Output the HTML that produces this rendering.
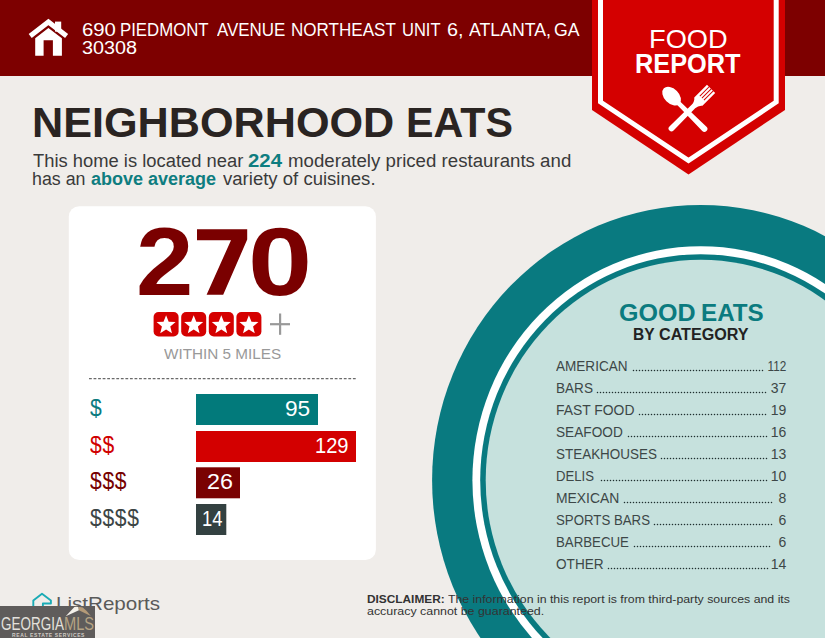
<!DOCTYPE html>
<html><head><meta charset="utf-8">
<style>
*{margin:0;padding:0;box-sizing:border-box}
html,body{width:825px;height:638px;overflow:hidden;background:#f0edea;font-family:"Liberation Sans",sans-serif}
.a{position:absolute;white-space:nowrap;transform-origin:0 0}
#hdr{position:absolute;left:0;top:0;width:825px;height:75.5px;background:#7d0000}
.aw,#t_addr2{color:#fff;font-size:18px;line-height:20px}
.ti{color:#2a2422;font-size:42.7px;font-weight:bold;line-height:50px}
.sub{color:#3a3a3a;font-size:17.6px;line-height:20px}
.tl{color:#0e7d80;font-weight:bold}
.num{color:#7a0000;font-size:96.6px;font-weight:bold;line-height:100px}
#t_within{color:#999;font-size:14.5px;line-height:16px}
.bn{color:#fff;font-size:21.4px;line-height:24px}
.dl{font-size:24.5px;line-height:28px}
.ge{color:#0b7b7f;font-size:24px;font-weight:bold;line-height:28px}
.bc{color:#222;font-size:16px;font-weight:bold;line-height:18px}
.rl,.rn{color:#3d4747;font-size:14px;line-height:18px}
.rn{transform-origin:100% 0}
#t_disc1,#t_disc2,#t_disc3{color:#333;font-size:11.5px;line-height:14px}
#t_lr{color:#5a5a5a;font-size:18.5px;line-height:22px}
</style></head><body>
<div id="hdr"></div>
<svg class="a" style="left:0;top:0" width="825" height="638" viewBox="0 0 825 638">
  <rect x="55" y="21.6" width="6.2" height="10" fill="#fff"/>
  <polyline points="30.2,35.9 48.4,22 66.6,35.9" fill="none" stroke="#fff" stroke-width="5" stroke-miterlimit="10"/>
  <path d="M35.2 38.2 L48.4 28.1 L61.9 38.2 L61.9 55.7 L52.9 55.7 L52.9 40.2 L43.6 40.2 L43.6 55.7 L35.2 55.7 Z" fill="#fff"/>
  <ellipse cx="700.7" cy="480.3" rx="268.6" ry="275.4" fill="#097a80"/>
  <ellipse cx="700.7" cy="480.3" rx="228.3" ry="234.1" fill="#fff"/>
  <ellipse cx="700.7" cy="480.3" rx="220.5" ry="226.1" fill="#097a80"/>
  <ellipse cx="700.7" cy="480.3" rx="215" ry="220.5" fill="#c6e1dd"/>
  <path d="M592 0 L785 0 L785 110 L688.5 174.5 L592 110 Z" fill="#d40000"/>
  <path d="M600.5 0 L600.5 102 L688.5 160.5 L776.2 102 L776.2 0" fill="none" stroke="#fff" stroke-width="5"/>
  <g fill="#fff">
    <g transform="translate(687.75,112.25) rotate(45)">
      <ellipse cx="-22.8" cy="0" rx="11" ry="7.4"/>
      <path d="M-14 -2.3 Q-4 -2.3 23.5 -3 A3 3 0 0 1 23.5 3 Q-4 2.3 -14 2.3 Z"/>
    </g>
    <g transform="translate(687.75,112.25) rotate(-45)">
      <path d="M-23 -2.9 L8 -2.5 Q12.5 -2.5 15 -5.8 L33 -5.8 L33 5.8 L15 5.8 Q12.5 2.5 8 2.5 L-23 2.9 A2.9 2.9 0 0 1 -23 -2.9 Z"/>
    </g>
  </g>
  <g stroke="#d40000" stroke-width="1">
    <g transform="translate(687.75,112.25) rotate(-45)">
      <line x1="20" y1="-2.9" x2="33.5" y2="-2.9"/><line x1="20" y1="0" x2="33.5" y2="0"/><line x1="20" y1="2.9" x2="33.5" y2="2.9"/>
    </g>
  </g>
  <rect x="68.8" y="206.2" width="307.1" height="353.8" rx="10.5" fill="#fff"/>
  <rect x="153.60" y="312" width="25" height="24.5" rx="5" fill="#d50000"/>
<polygon points="166.10,315.20 168.69,321.64 175.61,322.11 170.28,326.56 171.98,333.29 166.10,329.60 160.22,333.29 161.92,326.56 156.59,322.11 163.51,321.64" fill="#fff"/>
<rect x="181.20" y="312" width="25" height="24.5" rx="5" fill="#d50000"/>
<polygon points="193.70,315.20 196.29,321.64 203.21,322.11 197.88,326.56 199.58,333.29 193.70,329.60 187.82,333.29 189.52,326.56 184.19,322.11 191.11,321.64" fill="#fff"/>
<rect x="208.80" y="312" width="25" height="24.5" rx="5" fill="#d50000"/>
<polygon points="221.30,315.20 223.89,321.64 230.81,322.11 225.48,326.56 227.18,333.29 221.30,329.60 215.42,333.29 217.12,326.56 211.79,322.11 218.71,321.64" fill="#fff"/>
<rect x="236.40" y="312" width="25" height="24.5" rx="5" fill="#d50000"/>
<polygon points="248.90,315.20 251.49,321.64 258.41,322.11 253.08,326.56 254.78,333.29 248.90,329.60 243.02,333.29 244.72,326.56 239.39,322.11 246.31,321.64" fill="#fff"/>

  <line x1="89" y1="378.6" x2="356.5" y2="378.6" stroke="#6a6a6a" stroke-width="1.3" stroke-dasharray="2.8 1.75"/>
  <polygon points="197,229.3 247.2,229.3 247.2,239.5 223.2,294.8 206.6,294.8 231,240.2 197,240.2" fill="#7a0000"/>
  <rect x="270" y="323.1" width="20" height="2.2" fill="#999"/>
  <rect x="279" y="313.5" width="2.2" height="21.3" fill="#999"/>
  <g fill="#203030"><circle cx="633.50" cy="370.50" r="0.78"/><circle cx="636.50" cy="370.50" r="0.78"/><circle cx="639.50" cy="370.50" r="0.78"/><circle cx="642.50" cy="370.50" r="0.78"/><circle cx="645.50" cy="370.50" r="0.78"/><circle cx="648.50" cy="370.50" r="0.78"/><circle cx="651.50" cy="370.50" r="0.78"/><circle cx="654.50" cy="370.50" r="0.78"/><circle cx="657.50" cy="370.50" r="0.78"/><circle cx="660.50" cy="370.50" r="0.78"/><circle cx="663.50" cy="370.50" r="0.78"/><circle cx="666.50" cy="370.50" r="0.78"/><circle cx="669.50" cy="370.50" r="0.78"/><circle cx="672.50" cy="370.50" r="0.78"/><circle cx="675.50" cy="370.50" r="0.78"/><circle cx="678.50" cy="370.50" r="0.78"/><circle cx="681.50" cy="370.50" r="0.78"/><circle cx="684.50" cy="370.50" r="0.78"/><circle cx="687.50" cy="370.50" r="0.78"/><circle cx="690.50" cy="370.50" r="0.78"/><circle cx="693.50" cy="370.50" r="0.78"/><circle cx="696.50" cy="370.50" r="0.78"/><circle cx="699.50" cy="370.50" r="0.78"/><circle cx="702.50" cy="370.50" r="0.78"/><circle cx="705.50" cy="370.50" r="0.78"/><circle cx="708.50" cy="370.50" r="0.78"/><circle cx="711.50" cy="370.50" r="0.78"/><circle cx="714.50" cy="370.50" r="0.78"/><circle cx="717.50" cy="370.50" r="0.78"/><circle cx="720.50" cy="370.50" r="0.78"/><circle cx="723.50" cy="370.50" r="0.78"/><circle cx="726.50" cy="370.50" r="0.78"/><circle cx="729.50" cy="370.50" r="0.78"/><circle cx="732.50" cy="370.50" r="0.78"/><circle cx="735.50" cy="370.50" r="0.78"/><circle cx="738.50" cy="370.50" r="0.78"/><circle cx="741.50" cy="370.50" r="0.78"/><circle cx="744.50" cy="370.50" r="0.78"/><circle cx="747.50" cy="370.50" r="0.78"/><circle cx="750.50" cy="370.50" r="0.78"/><circle cx="753.50" cy="370.50" r="0.78"/><circle cx="756.50" cy="370.50" r="0.78"/><circle cx="759.50" cy="370.50" r="0.78"/><circle cx="762.50" cy="370.50" r="0.78"/><circle cx="597.50" cy="392.50" r="0.78"/><circle cx="600.50" cy="392.50" r="0.78"/><circle cx="603.50" cy="392.50" r="0.78"/><circle cx="606.50" cy="392.50" r="0.78"/><circle cx="609.50" cy="392.50" r="0.78"/><circle cx="612.50" cy="392.50" r="0.78"/><circle cx="615.50" cy="392.50" r="0.78"/><circle cx="618.50" cy="392.50" r="0.78"/><circle cx="621.50" cy="392.50" r="0.78"/><circle cx="624.50" cy="392.50" r="0.78"/><circle cx="627.50" cy="392.50" r="0.78"/><circle cx="630.50" cy="392.50" r="0.78"/><circle cx="633.50" cy="392.50" r="0.78"/><circle cx="636.50" cy="392.50" r="0.78"/><circle cx="639.50" cy="392.50" r="0.78"/><circle cx="642.50" cy="392.50" r="0.78"/><circle cx="645.50" cy="392.50" r="0.78"/><circle cx="648.50" cy="392.50" r="0.78"/><circle cx="651.50" cy="392.50" r="0.78"/><circle cx="654.50" cy="392.50" r="0.78"/><circle cx="657.50" cy="392.50" r="0.78"/><circle cx="660.50" cy="392.50" r="0.78"/><circle cx="663.50" cy="392.50" r="0.78"/><circle cx="666.50" cy="392.50" r="0.78"/><circle cx="669.50" cy="392.50" r="0.78"/><circle cx="672.50" cy="392.50" r="0.78"/><circle cx="675.50" cy="392.50" r="0.78"/><circle cx="678.50" cy="392.50" r="0.78"/><circle cx="681.50" cy="392.50" r="0.78"/><circle cx="684.50" cy="392.50" r="0.78"/><circle cx="687.50" cy="392.50" r="0.78"/><circle cx="690.50" cy="392.50" r="0.78"/><circle cx="693.50" cy="392.50" r="0.78"/><circle cx="696.50" cy="392.50" r="0.78"/><circle cx="699.50" cy="392.50" r="0.78"/><circle cx="702.50" cy="392.50" r="0.78"/><circle cx="705.50" cy="392.50" r="0.78"/><circle cx="708.50" cy="392.50" r="0.78"/><circle cx="711.50" cy="392.50" r="0.78"/><circle cx="714.50" cy="392.50" r="0.78"/><circle cx="717.50" cy="392.50" r="0.78"/><circle cx="720.50" cy="392.50" r="0.78"/><circle cx="723.50" cy="392.50" r="0.78"/><circle cx="726.50" cy="392.50" r="0.78"/><circle cx="729.50" cy="392.50" r="0.78"/><circle cx="732.50" cy="392.50" r="0.78"/><circle cx="735.50" cy="392.50" r="0.78"/><circle cx="738.50" cy="392.50" r="0.78"/><circle cx="741.50" cy="392.50" r="0.78"/><circle cx="744.50" cy="392.50" r="0.78"/><circle cx="747.50" cy="392.50" r="0.78"/><circle cx="750.50" cy="392.50" r="0.78"/><circle cx="753.50" cy="392.50" r="0.78"/><circle cx="756.50" cy="392.50" r="0.78"/><circle cx="759.50" cy="392.50" r="0.78"/><circle cx="762.50" cy="392.50" r="0.78"/><circle cx="765.50" cy="392.50" r="0.78"/><circle cx="639.50" cy="414.50" r="0.78"/><circle cx="642.50" cy="414.50" r="0.78"/><circle cx="645.50" cy="414.50" r="0.78"/><circle cx="648.50" cy="414.50" r="0.78"/><circle cx="651.50" cy="414.50" r="0.78"/><circle cx="654.50" cy="414.50" r="0.78"/><circle cx="657.50" cy="414.50" r="0.78"/><circle cx="660.50" cy="414.50" r="0.78"/><circle cx="663.50" cy="414.50" r="0.78"/><circle cx="666.50" cy="414.50" r="0.78"/><circle cx="669.50" cy="414.50" r="0.78"/><circle cx="672.50" cy="414.50" r="0.78"/><circle cx="675.50" cy="414.50" r="0.78"/><circle cx="678.50" cy="414.50" r="0.78"/><circle cx="681.50" cy="414.50" r="0.78"/><circle cx="684.50" cy="414.50" r="0.78"/><circle cx="687.50" cy="414.50" r="0.78"/><circle cx="690.50" cy="414.50" r="0.78"/><circle cx="693.50" cy="414.50" r="0.78"/><circle cx="696.50" cy="414.50" r="0.78"/><circle cx="699.50" cy="414.50" r="0.78"/><circle cx="702.50" cy="414.50" r="0.78"/><circle cx="705.50" cy="414.50" r="0.78"/><circle cx="708.50" cy="414.50" r="0.78"/><circle cx="711.50" cy="414.50" r="0.78"/><circle cx="714.50" cy="414.50" r="0.78"/><circle cx="717.50" cy="414.50" r="0.78"/><circle cx="720.50" cy="414.50" r="0.78"/><circle cx="723.50" cy="414.50" r="0.78"/><circle cx="726.50" cy="414.50" r="0.78"/><circle cx="729.50" cy="414.50" r="0.78"/><circle cx="732.50" cy="414.50" r="0.78"/><circle cx="735.50" cy="414.50" r="0.78"/><circle cx="738.50" cy="414.50" r="0.78"/><circle cx="741.50" cy="414.50" r="0.78"/><circle cx="744.50" cy="414.50" r="0.78"/><circle cx="747.50" cy="414.50" r="0.78"/><circle cx="750.50" cy="414.50" r="0.78"/><circle cx="753.50" cy="414.50" r="0.78"/><circle cx="756.50" cy="414.50" r="0.78"/><circle cx="759.50" cy="414.50" r="0.78"/><circle cx="762.50" cy="414.50" r="0.78"/><circle cx="765.50" cy="414.50" r="0.78"/><circle cx="628.50" cy="436.50" r="0.78"/><circle cx="631.50" cy="436.50" r="0.78"/><circle cx="634.50" cy="436.50" r="0.78"/><circle cx="637.50" cy="436.50" r="0.78"/><circle cx="640.50" cy="436.50" r="0.78"/><circle cx="643.50" cy="436.50" r="0.78"/><circle cx="646.50" cy="436.50" r="0.78"/><circle cx="649.50" cy="436.50" r="0.78"/><circle cx="652.50" cy="436.50" r="0.78"/><circle cx="655.50" cy="436.50" r="0.78"/><circle cx="658.50" cy="436.50" r="0.78"/><circle cx="661.50" cy="436.50" r="0.78"/><circle cx="664.50" cy="436.50" r="0.78"/><circle cx="667.50" cy="436.50" r="0.78"/><circle cx="670.50" cy="436.50" r="0.78"/><circle cx="673.50" cy="436.50" r="0.78"/><circle cx="676.50" cy="436.50" r="0.78"/><circle cx="679.50" cy="436.50" r="0.78"/><circle cx="682.50" cy="436.50" r="0.78"/><circle cx="685.50" cy="436.50" r="0.78"/><circle cx="688.50" cy="436.50" r="0.78"/><circle cx="691.50" cy="436.50" r="0.78"/><circle cx="694.50" cy="436.50" r="0.78"/><circle cx="697.50" cy="436.50" r="0.78"/><circle cx="700.50" cy="436.50" r="0.78"/><circle cx="703.50" cy="436.50" r="0.78"/><circle cx="706.50" cy="436.50" r="0.78"/><circle cx="709.50" cy="436.50" r="0.78"/><circle cx="712.50" cy="436.50" r="0.78"/><circle cx="715.50" cy="436.50" r="0.78"/><circle cx="718.50" cy="436.50" r="0.78"/><circle cx="721.50" cy="436.50" r="0.78"/><circle cx="724.50" cy="436.50" r="0.78"/><circle cx="727.50" cy="436.50" r="0.78"/><circle cx="730.50" cy="436.50" r="0.78"/><circle cx="733.50" cy="436.50" r="0.78"/><circle cx="736.50" cy="436.50" r="0.78"/><circle cx="739.50" cy="436.50" r="0.78"/><circle cx="742.50" cy="436.50" r="0.78"/><circle cx="745.50" cy="436.50" r="0.78"/><circle cx="748.50" cy="436.50" r="0.78"/><circle cx="751.50" cy="436.50" r="0.78"/><circle cx="754.50" cy="436.50" r="0.78"/><circle cx="757.50" cy="436.50" r="0.78"/><circle cx="760.50" cy="436.50" r="0.78"/><circle cx="763.50" cy="436.50" r="0.78"/><circle cx="766.50" cy="436.50" r="0.78"/><circle cx="661.50" cy="458.50" r="0.78"/><circle cx="664.50" cy="458.50" r="0.78"/><circle cx="667.50" cy="458.50" r="0.78"/><circle cx="670.50" cy="458.50" r="0.78"/><circle cx="673.50" cy="458.50" r="0.78"/><circle cx="676.50" cy="458.50" r="0.78"/><circle cx="679.50" cy="458.50" r="0.78"/><circle cx="682.50" cy="458.50" r="0.78"/><circle cx="685.50" cy="458.50" r="0.78"/><circle cx="688.50" cy="458.50" r="0.78"/><circle cx="691.50" cy="458.50" r="0.78"/><circle cx="694.50" cy="458.50" r="0.78"/><circle cx="697.50" cy="458.50" r="0.78"/><circle cx="700.50" cy="458.50" r="0.78"/><circle cx="703.50" cy="458.50" r="0.78"/><circle cx="706.50" cy="458.50" r="0.78"/><circle cx="709.50" cy="458.50" r="0.78"/><circle cx="712.50" cy="458.50" r="0.78"/><circle cx="715.50" cy="458.50" r="0.78"/><circle cx="718.50" cy="458.50" r="0.78"/><circle cx="721.50" cy="458.50" r="0.78"/><circle cx="724.50" cy="458.50" r="0.78"/><circle cx="727.50" cy="458.50" r="0.78"/><circle cx="730.50" cy="458.50" r="0.78"/><circle cx="733.50" cy="458.50" r="0.78"/><circle cx="736.50" cy="458.50" r="0.78"/><circle cx="739.50" cy="458.50" r="0.78"/><circle cx="742.50" cy="458.50" r="0.78"/><circle cx="745.50" cy="458.50" r="0.78"/><circle cx="748.50" cy="458.50" r="0.78"/><circle cx="751.50" cy="458.50" r="0.78"/><circle cx="754.50" cy="458.50" r="0.78"/><circle cx="757.50" cy="458.50" r="0.78"/><circle cx="760.50" cy="458.50" r="0.78"/><circle cx="763.50" cy="458.50" r="0.78"/><circle cx="766.50" cy="458.50" r="0.78"/><circle cx="601.50" cy="480.50" r="0.78"/><circle cx="604.50" cy="480.50" r="0.78"/><circle cx="607.50" cy="480.50" r="0.78"/><circle cx="610.50" cy="480.50" r="0.78"/><circle cx="613.50" cy="480.50" r="0.78"/><circle cx="616.50" cy="480.50" r="0.78"/><circle cx="619.50" cy="480.50" r="0.78"/><circle cx="622.50" cy="480.50" r="0.78"/><circle cx="625.50" cy="480.50" r="0.78"/><circle cx="628.50" cy="480.50" r="0.78"/><circle cx="631.50" cy="480.50" r="0.78"/><circle cx="634.50" cy="480.50" r="0.78"/><circle cx="637.50" cy="480.50" r="0.78"/><circle cx="640.50" cy="480.50" r="0.78"/><circle cx="643.50" cy="480.50" r="0.78"/><circle cx="646.50" cy="480.50" r="0.78"/><circle cx="649.50" cy="480.50" r="0.78"/><circle cx="652.50" cy="480.50" r="0.78"/><circle cx="655.50" cy="480.50" r="0.78"/><circle cx="658.50" cy="480.50" r="0.78"/><circle cx="661.50" cy="480.50" r="0.78"/><circle cx="664.50" cy="480.50" r="0.78"/><circle cx="667.50" cy="480.50" r="0.78"/><circle cx="670.50" cy="480.50" r="0.78"/><circle cx="673.50" cy="480.50" r="0.78"/><circle cx="676.50" cy="480.50" r="0.78"/><circle cx="679.50" cy="480.50" r="0.78"/><circle cx="682.50" cy="480.50" r="0.78"/><circle cx="685.50" cy="480.50" r="0.78"/><circle cx="688.50" cy="480.50" r="0.78"/><circle cx="691.50" cy="480.50" r="0.78"/><circle cx="694.50" cy="480.50" r="0.78"/><circle cx="697.50" cy="480.50" r="0.78"/><circle cx="700.50" cy="480.50" r="0.78"/><circle cx="703.50" cy="480.50" r="0.78"/><circle cx="706.50" cy="480.50" r="0.78"/><circle cx="709.50" cy="480.50" r="0.78"/><circle cx="712.50" cy="480.50" r="0.78"/><circle cx="715.50" cy="480.50" r="0.78"/><circle cx="718.50" cy="480.50" r="0.78"/><circle cx="721.50" cy="480.50" r="0.78"/><circle cx="724.50" cy="480.50" r="0.78"/><circle cx="727.50" cy="480.50" r="0.78"/><circle cx="730.50" cy="480.50" r="0.78"/><circle cx="733.50" cy="480.50" r="0.78"/><circle cx="736.50" cy="480.50" r="0.78"/><circle cx="739.50" cy="480.50" r="0.78"/><circle cx="742.50" cy="480.50" r="0.78"/><circle cx="745.50" cy="480.50" r="0.78"/><circle cx="748.50" cy="480.50" r="0.78"/><circle cx="751.50" cy="480.50" r="0.78"/><circle cx="754.50" cy="480.50" r="0.78"/><circle cx="757.50" cy="480.50" r="0.78"/><circle cx="760.50" cy="480.50" r="0.78"/><circle cx="763.50" cy="480.50" r="0.78"/><circle cx="766.50" cy="480.50" r="0.78"/><circle cx="624.50" cy="502.50" r="0.78"/><circle cx="627.50" cy="502.50" r="0.78"/><circle cx="630.50" cy="502.50" r="0.78"/><circle cx="633.50" cy="502.50" r="0.78"/><circle cx="636.50" cy="502.50" r="0.78"/><circle cx="639.50" cy="502.50" r="0.78"/><circle cx="642.50" cy="502.50" r="0.78"/><circle cx="645.50" cy="502.50" r="0.78"/><circle cx="648.50" cy="502.50" r="0.78"/><circle cx="651.50" cy="502.50" r="0.78"/><circle cx="654.50" cy="502.50" r="0.78"/><circle cx="657.50" cy="502.50" r="0.78"/><circle cx="660.50" cy="502.50" r="0.78"/><circle cx="663.50" cy="502.50" r="0.78"/><circle cx="666.50" cy="502.50" r="0.78"/><circle cx="669.50" cy="502.50" r="0.78"/><circle cx="672.50" cy="502.50" r="0.78"/><circle cx="675.50" cy="502.50" r="0.78"/><circle cx="678.50" cy="502.50" r="0.78"/><circle cx="681.50" cy="502.50" r="0.78"/><circle cx="684.50" cy="502.50" r="0.78"/><circle cx="687.50" cy="502.50" r="0.78"/><circle cx="690.50" cy="502.50" r="0.78"/><circle cx="693.50" cy="502.50" r="0.78"/><circle cx="696.50" cy="502.50" r="0.78"/><circle cx="699.50" cy="502.50" r="0.78"/><circle cx="702.50" cy="502.50" r="0.78"/><circle cx="705.50" cy="502.50" r="0.78"/><circle cx="708.50" cy="502.50" r="0.78"/><circle cx="711.50" cy="502.50" r="0.78"/><circle cx="714.50" cy="502.50" r="0.78"/><circle cx="717.50" cy="502.50" r="0.78"/><circle cx="720.50" cy="502.50" r="0.78"/><circle cx="723.50" cy="502.50" r="0.78"/><circle cx="726.50" cy="502.50" r="0.78"/><circle cx="729.50" cy="502.50" r="0.78"/><circle cx="732.50" cy="502.50" r="0.78"/><circle cx="735.50" cy="502.50" r="0.78"/><circle cx="738.50" cy="502.50" r="0.78"/><circle cx="741.50" cy="502.50" r="0.78"/><circle cx="744.50" cy="502.50" r="0.78"/><circle cx="747.50" cy="502.50" r="0.78"/><circle cx="750.50" cy="502.50" r="0.78"/><circle cx="753.50" cy="502.50" r="0.78"/><circle cx="756.50" cy="502.50" r="0.78"/><circle cx="759.50" cy="502.50" r="0.78"/><circle cx="762.50" cy="502.50" r="0.78"/><circle cx="765.50" cy="502.50" r="0.78"/><circle cx="768.50" cy="502.50" r="0.78"/><circle cx="771.50" cy="502.50" r="0.78"/><circle cx="654.50" cy="524.50" r="0.78"/><circle cx="657.50" cy="524.50" r="0.78"/><circle cx="660.50" cy="524.50" r="0.78"/><circle cx="663.50" cy="524.50" r="0.78"/><circle cx="666.50" cy="524.50" r="0.78"/><circle cx="669.50" cy="524.50" r="0.78"/><circle cx="672.50" cy="524.50" r="0.78"/><circle cx="675.50" cy="524.50" r="0.78"/><circle cx="678.50" cy="524.50" r="0.78"/><circle cx="681.50" cy="524.50" r="0.78"/><circle cx="684.50" cy="524.50" r="0.78"/><circle cx="687.50" cy="524.50" r="0.78"/><circle cx="690.50" cy="524.50" r="0.78"/><circle cx="693.50" cy="524.50" r="0.78"/><circle cx="696.50" cy="524.50" r="0.78"/><circle cx="699.50" cy="524.50" r="0.78"/><circle cx="702.50" cy="524.50" r="0.78"/><circle cx="705.50" cy="524.50" r="0.78"/><circle cx="708.50" cy="524.50" r="0.78"/><circle cx="711.50" cy="524.50" r="0.78"/><circle cx="714.50" cy="524.50" r="0.78"/><circle cx="717.50" cy="524.50" r="0.78"/><circle cx="720.50" cy="524.50" r="0.78"/><circle cx="723.50" cy="524.50" r="0.78"/><circle cx="726.50" cy="524.50" r="0.78"/><circle cx="729.50" cy="524.50" r="0.78"/><circle cx="732.50" cy="524.50" r="0.78"/><circle cx="735.50" cy="524.50" r="0.78"/><circle cx="738.50" cy="524.50" r="0.78"/><circle cx="741.50" cy="524.50" r="0.78"/><circle cx="744.50" cy="524.50" r="0.78"/><circle cx="747.50" cy="524.50" r="0.78"/><circle cx="750.50" cy="524.50" r="0.78"/><circle cx="753.50" cy="524.50" r="0.78"/><circle cx="756.50" cy="524.50" r="0.78"/><circle cx="759.50" cy="524.50" r="0.78"/><circle cx="762.50" cy="524.50" r="0.78"/><circle cx="765.50" cy="524.50" r="0.78"/><circle cx="768.50" cy="524.50" r="0.78"/><circle cx="771.50" cy="524.50" r="0.78"/><circle cx="634.50" cy="546.50" r="0.78"/><circle cx="637.50" cy="546.50" r="0.78"/><circle cx="640.50" cy="546.50" r="0.78"/><circle cx="643.50" cy="546.50" r="0.78"/><circle cx="646.50" cy="546.50" r="0.78"/><circle cx="649.50" cy="546.50" r="0.78"/><circle cx="652.50" cy="546.50" r="0.78"/><circle cx="655.50" cy="546.50" r="0.78"/><circle cx="658.50" cy="546.50" r="0.78"/><circle cx="661.50" cy="546.50" r="0.78"/><circle cx="664.50" cy="546.50" r="0.78"/><circle cx="667.50" cy="546.50" r="0.78"/><circle cx="670.50" cy="546.50" r="0.78"/><circle cx="673.50" cy="546.50" r="0.78"/><circle cx="676.50" cy="546.50" r="0.78"/><circle cx="679.50" cy="546.50" r="0.78"/><circle cx="682.50" cy="546.50" r="0.78"/><circle cx="685.50" cy="546.50" r="0.78"/><circle cx="688.50" cy="546.50" r="0.78"/><circle cx="691.50" cy="546.50" r="0.78"/><circle cx="694.50" cy="546.50" r="0.78"/><circle cx="697.50" cy="546.50" r="0.78"/><circle cx="700.50" cy="546.50" r="0.78"/><circle cx="703.50" cy="546.50" r="0.78"/><circle cx="706.50" cy="546.50" r="0.78"/><circle cx="709.50" cy="546.50" r="0.78"/><circle cx="712.50" cy="546.50" r="0.78"/><circle cx="715.50" cy="546.50" r="0.78"/><circle cx="718.50" cy="546.50" r="0.78"/><circle cx="721.50" cy="546.50" r="0.78"/><circle cx="724.50" cy="546.50" r="0.78"/><circle cx="727.50" cy="546.50" r="0.78"/><circle cx="730.50" cy="546.50" r="0.78"/><circle cx="733.50" cy="546.50" r="0.78"/><circle cx="736.50" cy="546.50" r="0.78"/><circle cx="739.50" cy="546.50" r="0.78"/><circle cx="742.50" cy="546.50" r="0.78"/><circle cx="745.50" cy="546.50" r="0.78"/><circle cx="748.50" cy="546.50" r="0.78"/><circle cx="751.50" cy="546.50" r="0.78"/><circle cx="754.50" cy="546.50" r="0.78"/><circle cx="757.50" cy="546.50" r="0.78"/><circle cx="760.50" cy="546.50" r="0.78"/><circle cx="763.50" cy="546.50" r="0.78"/><circle cx="766.50" cy="546.50" r="0.78"/><circle cx="769.50" cy="546.50" r="0.78"/><circle cx="608.50" cy="568.50" r="0.78"/><circle cx="611.50" cy="568.50" r="0.78"/><circle cx="614.50" cy="568.50" r="0.78"/><circle cx="617.50" cy="568.50" r="0.78"/><circle cx="620.50" cy="568.50" r="0.78"/><circle cx="623.50" cy="568.50" r="0.78"/><circle cx="626.50" cy="568.50" r="0.78"/><circle cx="629.50" cy="568.50" r="0.78"/><circle cx="632.50" cy="568.50" r="0.78"/><circle cx="635.50" cy="568.50" r="0.78"/><circle cx="638.50" cy="568.50" r="0.78"/><circle cx="641.50" cy="568.50" r="0.78"/><circle cx="644.50" cy="568.50" r="0.78"/><circle cx="647.50" cy="568.50" r="0.78"/><circle cx="650.50" cy="568.50" r="0.78"/><circle cx="653.50" cy="568.50" r="0.78"/><circle cx="656.50" cy="568.50" r="0.78"/><circle cx="659.50" cy="568.50" r="0.78"/><circle cx="662.50" cy="568.50" r="0.78"/><circle cx="665.50" cy="568.50" r="0.78"/><circle cx="668.50" cy="568.50" r="0.78"/><circle cx="671.50" cy="568.50" r="0.78"/><circle cx="674.50" cy="568.50" r="0.78"/><circle cx="677.50" cy="568.50" r="0.78"/><circle cx="680.50" cy="568.50" r="0.78"/><circle cx="683.50" cy="568.50" r="0.78"/><circle cx="686.50" cy="568.50" r="0.78"/><circle cx="689.50" cy="568.50" r="0.78"/><circle cx="692.50" cy="568.50" r="0.78"/><circle cx="695.50" cy="568.50" r="0.78"/><circle cx="698.50" cy="568.50" r="0.78"/><circle cx="701.50" cy="568.50" r="0.78"/><circle cx="704.50" cy="568.50" r="0.78"/><circle cx="707.50" cy="568.50" r="0.78"/><circle cx="710.50" cy="568.50" r="0.78"/><circle cx="713.50" cy="568.50" r="0.78"/><circle cx="716.50" cy="568.50" r="0.78"/><circle cx="719.50" cy="568.50" r="0.78"/><circle cx="722.50" cy="568.50" r="0.78"/><circle cx="725.50" cy="568.50" r="0.78"/><circle cx="728.50" cy="568.50" r="0.78"/><circle cx="731.50" cy="568.50" r="0.78"/><circle cx="734.50" cy="568.50" r="0.78"/><circle cx="737.50" cy="568.50" r="0.78"/><circle cx="740.50" cy="568.50" r="0.78"/><circle cx="743.50" cy="568.50" r="0.78"/><circle cx="746.50" cy="568.50" r="0.78"/><circle cx="749.50" cy="568.50" r="0.78"/><circle cx="752.50" cy="568.50" r="0.78"/><circle cx="755.50" cy="568.50" r="0.78"/><circle cx="758.50" cy="568.50" r="0.78"/><circle cx="761.50" cy="568.50" r="0.78"/><circle cx="764.50" cy="568.50" r="0.78"/><circle cx="767.50" cy="568.50" r="0.78"/></g>
  <rect x="196" y="394" width="122" height="31" fill="#027a7b"/>
  <rect x="196" y="431" width="160" height="31" fill="#d30000"/>
  <rect x="196" y="467.3" width="44" height="31" fill="#7a0202"/>
  <rect x="196" y="504" width="30.3" height="31" fill="#334141"/>
</svg>
<div id="t_aw0" class="a aw" style="left:81.67px;top:20px;transform:scaleX(1.13)">690</div>
<div id="t_aw1" class="a aw" style="left:119.64px;top:20px;transform:scaleX(0.932)">PIEDMONT</div>
<div id="t_aw2" class="a aw" style="left:217.00px;top:20px;transform:scaleX(0.94)">AVENUE</div>
<div id="t_aw3" class="a aw" style="left:291.00px;top:20px;transform:scaleX(0.948)">NORTHEAST</div>
<div id="t_aw4" class="a aw" style="left:402.38px;top:20px;transform:scaleX(0.917)">UNIT</div>
<div id="t_aw5" class="a aw" style="left:447.10px;top:20px;transform:scaleX(1.1)">6,</div>
<div id="t_aw6" class="a aw" style="left:468.50px;top:20px;transform:scaleX(0.983)">ATLANTA,</div>
<div id="t_aw7" class="a aw" style="left:553.52px;top:20px;transform:scaleX(0.98)">GA</div>
<div id="t_addr2" class="a" style="left:81.6px;top:38.4px;transform:scaleX(1.1)">30308</div>
<div id="t_ti1" class="a ti" style="left:32px;top:97.3px;transform:scaleX(1.0116)">NEIGHBORHOOD</div>
<div id="t_ti2" class="a ti" style="left:406.2px;top:97.3px;transform:scaleX(0.966)">EATS</div>
<div id="t_s1a" class="a sub" style="left:33.2px;top:151.2px;transform:scaleX(1.044)">This home is located near</div>
<div id="t_s1b" class="a sub tl" style="left:248.2px;top:151.2px;transform:scaleX(1.157)">224</div>
<div id="t_s1c" class="a sub" style="left:287.5px;top:151.2px;transform:scaleX(1.061)">moderately priced restaurants and</div>
<div id="t_s2a" class="a sub" style="left:32.2px;top:168.9px;transform:scaleX(1.012)">has an</div>
<div id="t_s2b" class="a sub tl" style="left:91px;top:168.9px;transform:scaleX(1.023)">above average</div>
<div id="t_s2c" class="a sub" style="left:222.6px;top:168.9px;transform:scaleX(1.054)">variety of cuisines.</div>
<div id="t_n1" class="a num" style="left:135.9px;top:212.3px;transform:scaleX(1.068)">2</div>
<div id="t_n3" class="a num" style="left:247.6px;top:212.3px;transform:scaleX(1.193)">0</div>
<div id="t_within" class="a" style="left:164px;top:346px;transform:scaleX(1.053)">WITHIN 5 MILES</div>
<div id="t_b1" class="bn a" style="left:285px;top:397px;transform:scaleX(1.06)">95</div>
<div id="t_b2" class="bn a" style="left:315px;top:434px;transform:scaleX(0.94)">129</div>
<div id="t_b3" class="bn a" style="left:207px;top:470px;transform:scaleX(1.09)">26</div>
<div id="t_b4" class="bn a" style="left:202px;top:507px;transform:scaleX(0.86)">14</div>
<div id="t_d1" class="a dl" style="left:89.5px;top:394px;color:#0b7b7f;transform:scaleX(0.86);letter-spacing:0.8px">$</div>
<div id="t_d2" class="a dl" style="left:89.5px;top:431px;color:#d00000;transform:scaleX(0.86);letter-spacing:0.8px">$$</div>
<div id="t_d3" class="a dl" style="left:89.5px;top:467px;color:#760000;transform:scaleX(0.86);letter-spacing:0.8px">$$$</div>
<div id="t_d4" class="a dl" style="left:89.5px;top:504px;color:#3c4545;transform:scaleX(0.86);letter-spacing:0.8px">$$$$</div>
<div id="t_ge1" class="a ge" style="left:618.66px;top:299px;transform:scaleX(1.044)">GOOD</div>
<div id="t_ge2" class="a ge" style="left:700.7px;top:299px;transform:scaleX(1.008)">EATS</div>
<div id="t_bc1" class="a bc" style="left:632.7px;top:325.5px;transform:scaleX(0.97)">BY</div>
<div id="t_bc2" class="a bc" style="left:659.4px;top:325.5px;transform:scaleX(1.008)">CATEGORY</div>
<div id="t_rl0" class="a rl" style="left:556.3px;top:357.10px;transform:scaleX(0.968)">AMERICAN</div>
<div id="t_rn0" class="a rn" style="right:38.7px;top:357.10px;transform:scaleX(0.84)">112</div>
<div id="t_rl1" class="a rl" style="left:556.3px;top:379.13px;transform:scaleX(0.969)">BARS</div>
<div id="t_rn1" class="a rn" style="right:38.7px;top:379.13px">37</div>
<div id="t_rl2" class="a rl" style="left:556.3px;top:401.16px;transform:scaleX(0.992)">FAST FOOD</div>
<div id="t_rn2" class="a rn" style="right:38.7px;top:401.16px">19</div>
<div id="t_rl3" class="a rl" style="left:556.3px;top:423.19px;transform:scaleX(0.976)">SEAFOOD</div>
<div id="t_rn3" class="a rn" style="right:38.7px;top:423.19px">16</div>
<div id="t_rl4" class="a rl" style="left:556.3px;top:445.22px;transform:scaleX(0.961)">STEAKHOUSES</div>
<div id="t_rn4" class="a rn" style="right:38.7px;top:445.22px">13</div>
<div id="t_rl5" class="a rl" style="left:556.3px;top:467.25px;transform:scaleX(0.938)">DELIS</div>
<div id="t_rn5" class="a rn" style="right:38.7px;top:467.25px">10</div>
<div id="t_rl6" class="a rl" style="left:556.3px;top:489.28px;transform:scaleX(0.992)">MEXICAN</div>
<div id="t_rn6" class="a rn" style="right:38.7px;top:489.28px">8</div>
<div id="t_rl7" class="a rl" style="left:556.3px;top:511.31px;transform:scaleX(0.946)">SPORTS BARS</div>
<div id="t_rn7" class="a rn" style="right:38.7px;top:511.31px">6</div>
<div id="t_rl8" class="a rl" style="left:556.3px;top:533.34px;transform:scaleX(0.947)">BARBECUE</div>
<div id="t_rn8" class="a rn" style="right:38.7px;top:533.34px">6</div>
<div id="t_rl9" class="a rl" style="left:556.3px;top:555.37px;transform:scaleX(0.972)">OTHER</div>
<div id="t_rn9" class="a rn" style="right:38.7px;top:555.37px">14</div>
<div id="t_food" class="a" style="left:649.1px;top:24.6px;transform:scaleX(1.02);color:#fff;font-size:26.7px;line-height:28px">FOOD</div>
<div id="t_report" class="a" style="left:635.4px;top:50px;transform:scaleX(0.938);color:#fff;font-size:27px;font-weight:bold;line-height:28px">REPORT</div>
<div id="t_disc1" class="a" style="left:367px;top:592px;font-weight:bold;transform:scaleX(1.03)">DISCLAIMER:</div>
<div id="t_disc2" class="a" style="left:447.5px;top:592px;transform:scaleX(1.07)">The information in this report is from third-party sources and its</div>
<div id="t_disc3" class="a" style="left:367.3px;top:604px;transform:scaleX(1.078)">accuracy cannot be guaranteed.</div>
<div id="t_lr" class="a" style="left:56.4px;top:593px;transform:scaleX(1.113)">ListReports</div>
<svg class="a" style="left:0;top:0" width="825" height="638" viewBox="0 0 825 638">
  <path d="M33.3 607 L33.3 600.4 L42 593.8 L50.9 600.4 L50.9 603.5 L42.9 603.5 L42.9 607" fill="none" stroke="#1aabb5" stroke-width="1.9" stroke-linejoin="round" stroke-linecap="round"/>
  <rect x="0" y="606" width="95" height="32" fill="#5f5c5b"/>
  <path d="M65.7 616.3 L74.4 607 Q76.5 606.6 78.4 607.1 L78.9 610.3 Z" fill="#f4f1ea"/>
  <path d="M78.4 607.1 Q80.8 606.8 82.8 607.4 Q87.5 611 90.8 616 L78.9 610.3 Z" fill="#b49a78"/>
</svg>
<div id="t_mls1" class="a" style="left:1.2px;top:615px;color:#e4e1dc;font-size:17.5px;line-height:18px;transform:scaleX(0.77)">GEORGIA</div>
<div id="t_mls2" class="a" style="left:63.8px;top:615px;color:#b5a383;font-size:17.5px;line-height:18px;transform:scaleX(0.835)">MLS</div>
<div id="t_mls3" class="a" style="left:12px;top:631.5px;color:#cfcac4;font-size:5px;line-height:6px;font-weight:bold;letter-spacing:0.63px">REAL ESTATE SERVICES</div>
</body></html>
